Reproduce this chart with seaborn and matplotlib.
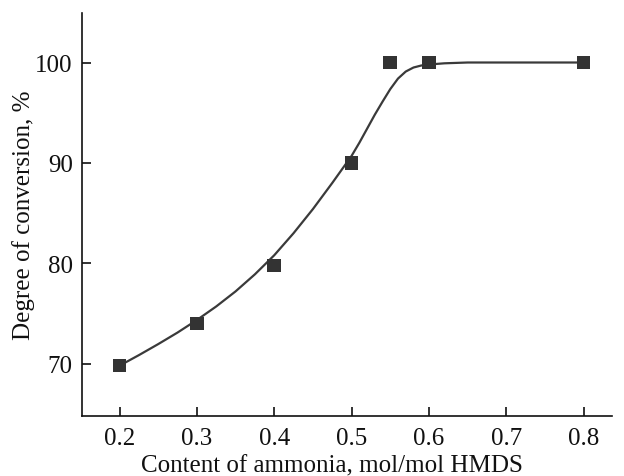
import matplotlib
matplotlib.use("Agg")
import matplotlib.pyplot as plt
import seaborn as sns
import pandas as pd

# Measured points
x_points = [0.2, 0.3, 0.4, 0.5, 0.55, 0.6, 0.8]
y_points = [69.8, 74.0, 79.8, 90.0, 100.0, 100.0, 100.0]

# Fitted curve
x_curve = [0.2, 0.225, 0.25, 0.275, 0.3, 0.325, 0.35, 0.375, 0.4, 0.425,
           0.45, 0.475, 0.5, 0.51, 0.52, 0.53, 0.54, 0.55, 0.56, 0.57,
           0.58, 0.59, 0.6, 0.62, 0.65, 0.8]
y_curve = [69.8, 70.85, 71.95, 73.1, 74.35, 75.7, 77.2, 78.9, 80.8, 83.0,
           85.4, 88.0, 90.7, 92.0, 93.4, 94.8, 96.1, 97.35, 98.4, 99.1,
           99.5, 99.7, 99.8, 99.92, 100.0, 100.0]

x_ticks = [0.2, 0.3, 0.4, 0.5, 0.6, 0.7, 0.8]
y_ticks = [70, 80, 90, 100]

sns.set_theme(style="ticks")
plt.rcParams['font.family'] = ['Liberation Serif', 'DejaVu Serif']

pts = pd.DataFrame({"x": x_points, "y": y_points})
crv = pd.DataFrame({"x": x_curve, "y": y_curve})

fig, ax = plt.subplots(figsize=(6.24, 4.77), dpi=100)
fig.subplots_adjust(left=0.132, right=0.98, top=0.97, bottom=0.126)

sns.lineplot(data=crv, x="x", y="y", ax=ax, color="#3a3a3a", linewidth=1.6,
             sort=False, estimator=None)
sns.scatterplot(data=pts, x="x", y="y", ax=ax, marker="s", s=95,
                color="#333333", edgecolor="none", zorder=3)

ax.set_xlim(0.152, 0.836)
ax.set_ylim(64.8, 104.9)
ax.set_xticks(x_ticks)
ax.set_yticks(y_ticks)
ax.set_xticklabels([f"{v:.1f}" for v in x_ticks])
ax.set_yticklabels([str(v) for v in y_ticks])
ax.tick_params(direction="in", length=6.5, width=1.2, labelsize=18, colors="#111111")
ax.tick_params(axis="y", pad=7)
ax.tick_params(axis="x", pad=8)
for s in ["top", "right"]:
    ax.spines[s].set_visible(False)
for s in ["left", "bottom"]:
    ax.spines[s].set_linewidth(1.2)
    ax.spines[s].set_color("#111111")

ax.set_xlabel("Content of ammonia, mol/mol HMDS", fontsize=18, color="#111111")
ax.xaxis.set_label_coords(0.472, -0.097)
ax.set_ylabel("Degree of conversion, %", fontsize=18, labelpad=0, color="#111111")

fig.savefig("out.png", dpi=100)
